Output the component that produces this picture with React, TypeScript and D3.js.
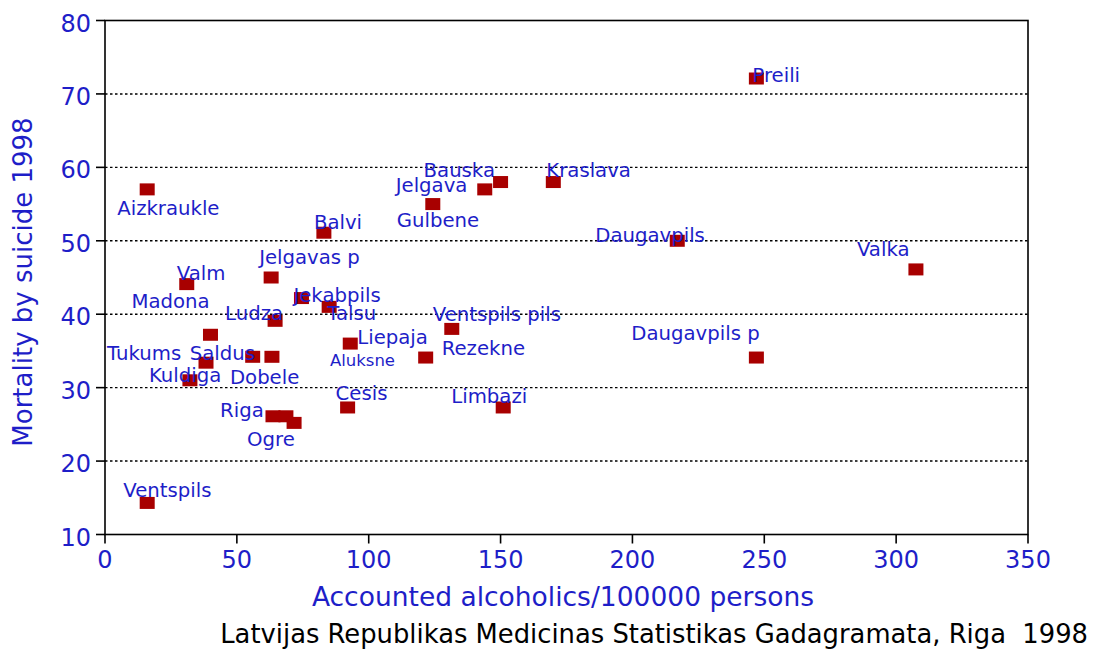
import React from "react";
import * as d3 from "d3";

// ---- data ----
const districts = [
  "Preili", "Bauska", "Jelgava", "Kraslava", "Gulbene", "Aizkraukle", "Balvi",
  "Daugavpils", "Valka", "Jelgavas p", "Valm", "Jekabpils", "Talsu", "Ludza",
  "Madona", "Ventspils pils", "Liepaja", "Rezekne", "Daugavpils p", "Saldus",
  "Dobele", "Tukums", "Kuldiga", "Riga", "Aluksne", "Ogre", "Cesis", "Limbazi",
  "Ventspils",
];
const alcoholics = [
  247, 150, 144, 170, 124.3, 16, 83, 217, 307.5, 63, 31, 74.5, 85, 64.5, 40,
  131.5, 93, 121.6, 247, 56, 63.3, 38.3, 32.2, 63.7, 68.6, 71.7, 92, 151, 16,
];
const suicide = [
  72.1, 58, 57, 58, 55, 57, 51.1, 50, 46.1, 45, 44.1, 42.2, 41, 39.1, 37.2, 38,
  36, 34.1, 34.1, 34.2, 34.2, 33.4, 31, 26.1, 26.1, 25.2, 27.3, 27.3, 14.3,
];
const xTicks = [0, 50, 100, 150, 200, 250, 300, 350];
const yTicks = [10, 20, 30, 40, 50, 60, 70, 80];
const gridValues = [20, 30, 40, 50, 60, 70];
const xTitle = "Accounted alcoholics/100000 persons";
const yTitle = "Mortality by suicide 1998";
const sourceText = "Latvijas Republikas Medicinas Statistikas Gadagramata, Riga  1998";

// ---- label layout (pixel offsets from marker centre to text start/baseline) ----
const labelOffsets: [number, number, number?][] = [
  [-4, 3], [-77, -5], [-89, 3], [-7, -5], [-36, 23], [-30, 26], [-10, -4],
  [-82, 1], [-59, -13], [-12, -14], [-10, -4], [-8, 4], [-2, 13], [-50, -1],
  [-79, -27], [-19, -8], [7, 0], [16, -3], [-125, -18], [-63, 3],
  [-42, 27], [-99, -3], [-41, 2], [-53, 1], [44, -50, 16.5], [-47, 23],
  [-12, -7], [-52, -4], [-24, -6],
];

const W = 1095;
const H = 650;
const FONT = "'DejaVu Sans', Verdana, sans-serif";
const BLUE = "#1e1ec8";
const RED = "#a80000";

export default function App() {
  const x = d3.scaleLinear().domain([0, 350]).range([105, 1028]);
  const y = d3.scaleLinear().domain([10, 80]).range([534.5, 20.5]);
  const [x0, x1] = x.range();
  const [yb, yt] = y.range();
  const mw = 15;
  const mh = 12;

  return (
    <svg
      width={W}
      height={H}
      style={{ position: "absolute", left: 0, top: 0, background: "#fff" }}
      fontFamily={FONT}
    >
      <rect x={0} y={0} width={W} height={H} fill="#fff" />
      {/* grid */}
      {gridValues.map((g) => (
        <line
          key={"g" + g}
          x1={x0}
          x2={x1}
          y1={y(g)}
          y2={y(g)}
          stroke="#000"
          strokeWidth={1.4}
          strokeDasharray="2.5,2.5"
        />
      ))}
      {/* frame */}
      <rect x={x0} y={yt} width={x1 - x0} height={yb - yt} fill="none" stroke="#000" strokeWidth={1.6} />
      {/* y ticks */}
      {yTicks.map((t) => (
        <g key={"y" + t}>
          <line x1={x0 - 9} x2={x0} y1={y(t)} y2={y(t)} stroke="#000" strokeWidth={1.6} />
          <text x={x0 - 14} y={y(t) + 11} textAnchor="end" fontSize={24} fill={BLUE}>
            {t}
          </text>
        </g>
      ))}
      {/* x ticks */}
      {xTicks.map((t) => (
        <g key={"x" + t}>
          <line x1={x(t)} x2={x(t)} y1={yb} y2={yb + 9} stroke="#000" strokeWidth={1.6} />
          <text x={x(t)} y={yb + 33} textAnchor="middle" fontSize={24} fill={BLUE}>
            {t}
          </text>
        </g>
      ))}
      {/* markers */}
      {districts.map((d, i) => (
        <rect
          key={"m" + d}
          x={x(alcoholics[i]) - mw / 2}
          y={y(suicide[i]) - mh / 2}
          width={mw}
          height={mh}
          fill={RED}
        />
      ))}
      {/* labels */}
      {districts.map((d, i) => {
        const [dx, dy, fs] = labelOffsets[i];
        return (
          <text
            key={"l" + d}
            x={x(alcoholics[i]) + dx}
            y={y(suicide[i]) + dy}
            fontSize={fs ?? 19.7}
            fill={BLUE}
          >
            {d}
          </text>
        );
      })}
      {/* axis titles */}
      <text x={563} y={606} textAnchor="middle" fontSize={26.5} fill={BLUE}>
        {xTitle}
      </text>
      <text
        transform={`translate(32,282) rotate(-90)`}
        textAnchor="middle"
        fontSize={26}
        fill={BLUE}
      >
        {yTitle}
      </text>
      <text x={1088} y={643} textAnchor="end" fontSize={25.8} fill="#000" style={{ whiteSpace: "pre" }} xmlSpace="preserve">
        {sourceText}
      </text>
    </svg>
  );
}
